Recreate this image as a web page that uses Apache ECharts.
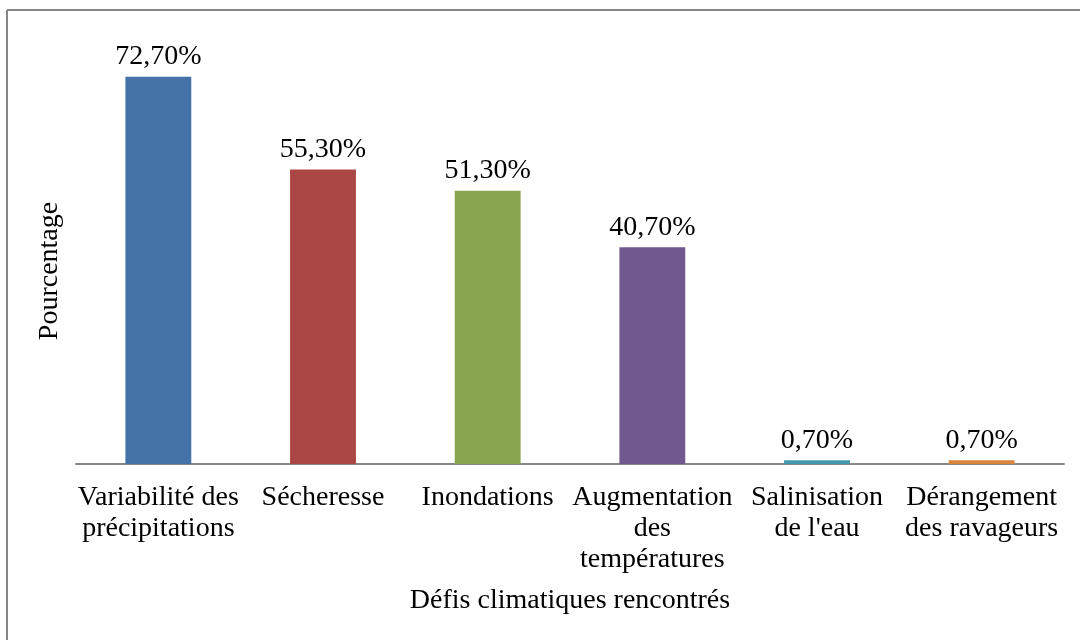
<!DOCTYPE html>
<html>
<head>
<meta charset="utf-8">
<script src="https://cdn.jsdelivr.net/npm/echarts@6/dist/echarts.min.js"></script>
<style>
html,body{margin:0;padding:0;background:#fff;}
#chart{width:1080px;height:640px;}
</style>
</head>
<body>
<div id="chart"></div>
<script>
const categories = [
  'Variabilité des\nprécipitations',
  'Sécheresse',
  'Inondations',
  'Augmentation\ndes\ntempératures',
  'Salinisation\nde l\'eau',
  'Dérangement\ndes ravageurs'
];
const values = [72.7, 55.3, 51.3, 40.7, 0.7, 0.7];
const colors = ['#4572A7', '#AA4643', '#89A54E', '#71588F', '#4198AF', '#DB843D'];
const xTitle = 'Défis climatiques rencontrés';
const yTitle = 'Pourcentage';

const FONT = '"Liberation Serif", "DejaVu Serif", serif';
const FS = 28;
const chart = echarts.init(document.getElementById('chart'), null, {renderer: 'canvas'});
chart.setOption({
  animation: false,
  backgroundColor: '#ffffff',
  textStyle: {fontFamily: FONT},
  grid: {left: 76, right: 16, top: 38, bottom: 176, containLabel: false},
  xAxis: {
    type: 'category',
    data: categories,
    name: xTitle,
    nameLocation: 'middle',
    nameGap: 123,
    nameTextStyle: {fontFamily: FONT, fontSize: FS, color: '#000'},
    axisLine: {show: true, lineStyle: {color: '#888888', width: 2}},
    axisTick: {show: false},
    axisLabel: {
      interval: 0,
      margin: 18,
      fontFamily: FONT,
      fontSize: FS,
      lineHeight: 31,
      color: '#000',
      align: 'center'
    }
  },
  yAxis: {
    type: 'value',
    min: 0,
    max: 80,
    name: yTitle,
    nameLocation: 'middle',
    nameGap: 12,
    nameRotate: 90,
    nameTextStyle: {fontFamily: FONT, fontSize: FS, color: '#000', padding: [0, 40, 0, 0]},
    axisLine: {show: false},
    axisTick: {show: false},
    axisLabel: {show: false},
    splitLine: {show: false}
  },
  series: [{
    type: 'bar',
    data: values.map((v, i) => ({value: v, itemStyle: {color: colors[i]}})),
    barCategoryGap: '60%',
    label: {
      show: true,
      position: 'top',
      distance: 6,
      fontFamily: FONT,
      fontSize: FS,
      color: '#000',
      formatter: p => p.value.toFixed(2).replace('.', ',') + '%'
    }
  }],
  graphic: [
    {type: 'line', shape: {x1: 7, y1: 10, x2: 1080, y2: 10}, style: {stroke: '#868686', lineWidth: 2}},
    {type: 'line', shape: {x1: 7, y1: 10, x2: 7, y2: 640}, style: {stroke: '#868686', lineWidth: 2}}
  ]
});
</script>
</body>
</html>
